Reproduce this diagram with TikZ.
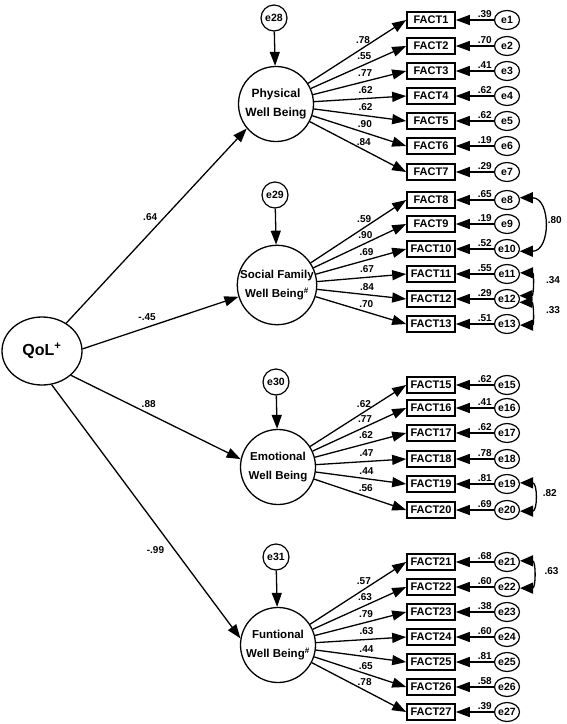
\documentclass[tikz,border=0pt]{standalone}
\usepackage{fontspec}
\setmainfont{Liberation Sans}
\usetikzlibrary{arrows.meta,shapes.geometric}

\begin{document}
\begin{tikzpicture}[x=1pt,y=1pt]
    \tikzstyle{every node}+=[inner sep=0pt]
    \tikzstyle{fact}=[draw, line width=1.6pt, minimum width=48pt, minimum height=15.5pt, font=\fontsize{11}{11}\selectfont\bfseries]
    \tikzstyle{err}=[draw, ellipse, line width=1.2pt, minimum width=25pt, minimum height=19pt, font=\fontsize{10.5}{10.5}\selectfont\bfseries]
    \tikzstyle{res}=[draw, circle, line width=1.2pt, minimum size=26pt, font=\fontsize{10.5}{10.5}\selectfont\bfseries]
    \tikzstyle{latent}=[draw, circle, line width=1.3pt, minimum size=75pt, align=center, font=\fontsize{11.5}{19.5}\selectfont\bfseries]
    \tikzstyle{regr}=[line width=1.3pt, -{Triangle[length=14pt,width=10pt]}]
    \tikzstyle{cov}=[line width=1.3pt, {Triangle[length=13pt,width=11pt]}-{Triangle[length=13pt,width=11pt]}]
    \tikzstyle{coef}=[font=\fontsize{10}{10}\selectfont\bfseries]
    \tikzstyle{flab}=[coef, pos=0.56, above=4pt]
    \tikzstyle{elab}=[coef, pos=0.24, above=2pt]
    \useasboundingbox (0,0) rectangle (567,-724);
    % second order factor
    \node[draw, ellipse, line width=1.3pt, minimum width=80pt, minimum height=68pt, font=\fontsize{16}{16}\selectfont\bfseries] (qol) at (42,-351) {QoL\textsuperscript{+}};
    % first order factors and their residuals
    \node[latent, font=\fontsize{12}{19.5}\selectfont\bfseries] (phys) at (276,-104) {Physical\\Well Being};
    \node[latent] (soc) at (277,-285) {Social Family\\Well Being\textsuperscript{\#}};
    \node[latent] (emo) at (278,-467) {Emotional\\Well Being};
    \node[latent] (fun) at (278,-645) {Funtional\\Well Being\textsuperscript{\#}};
    \node[res] (e28) at (274,-18) {e28};
    \node[res] (e29) at (275,-195) {e29};
    \node[res] (e30) at (276,-382) {e30};
    \node[res] (e31) at (276,-557) {e31};
    \draw[regr] (e28) -- (phys);
    \draw[regr] (e29) -- (soc);
    \draw[regr] (e30) -- (emo);
    \draw[regr] (e31) -- (fun);
    \draw[regr] (qol.49) -- node[coef, pos=0.546, left=7pt] {.64} (phys.220);
    \draw[regr] (qol.3) -- node[coef, pos=0.414, above=6pt] {-.45} (soc.197);
    \draw[regr] (qol.-40) -- node[coef, pos=0.458, above=5pt] {.88} (emo.168);
    \draw[regr] (qol.-74) -- node[coef, pos=0.652, left=10pt] {-.99} (fun.170);
    % Physical Well Being items
    \node[fact] (f1) at (431,-20) {FACT1}; \node[err] (e1) at (507,-20) {e1};
    \draw[regr] (e1) -- node[elab] {.39} (f1); \draw[regr] (phys) -- node[flab] {.78} (f1.west);
    \node[fact] (f2) at (431,-46) {FACT2}; \node[err] (e2) at (507,-46) {e2};
    \draw[regr] (e2) -- node[elab] {.70} (f2); \draw[regr] (phys) -- node[flab] {.55} (f2.west);
    \node[fact] (f3) at (431,-71) {FACT3}; \node[err] (e3) at (507,-71) {e3};
    \draw[regr] (e3) -- node[elab] {.41} (f3); \draw[regr] (phys) -- node[flab] {.77} (f3.west);
    \node[fact] (f4) at (431,-96) {FACT4}; \node[err] (e4) at (507,-96) {e4};
    \draw[regr] (e4) -- node[elab] {.62} (f4); \draw[regr] (phys) -- node[flab] {.62} (f4.west);
    \node[fact] (f5) at (431,-121) {FACT5}; \node[err] (e5) at (507,-121) {e5};
    \draw[regr] (e5) -- node[elab] {.62} (f5); \draw[regr] (phys) -- node[flab] {.62} (f5.west);
    \node[fact] (f6) at (431,-146) {FACT6}; \node[err] (e6) at (507,-146) {e6};
    \draw[regr] (e6) -- node[elab] {.19} (f6); \draw[regr] (phys) -- node[flab] {.90} (f6.west);
    \node[fact] (f7) at (431,-172) {FACT7}; \node[err] (e7) at (507,-172) {e7};
    \draw[regr] (e7) -- node[elab] {.29} (f7); \draw[regr] (phys) -- node[flab] {.84} (f7.west);
    % Social Family Well Being items
    \node[fact] (f8) at (431,-200) {FACT8}; \node[err] (e8) at (507,-200) {e8};
    \draw[regr] (e8) -- node[elab] {.65} (f8); \draw[regr] (soc) -- node[flab] {.59} (f8.west);
    \node[fact] (f9) at (431,-224) {FACT9}; \node[err] (e9) at (507,-224) {e9};
    \draw[regr] (e9) -- node[elab] {.19} (f9); \draw[regr] (soc) -- node[flab] {.90} (f9.west);
    \node[fact] (f10) at (431,-249) {FACT10}; \node[err] (e10) at (507,-249) {e10};
    \draw[regr] (e10) -- node[elab] {.52} (f10); \draw[regr] (soc) -- node[flab] {.69} (f10.west);
    \node[fact] (f11) at (431,-274) {FACT11}; \node[err] (e11) at (507,-274) {e11};
    \draw[regr] (e11) -- node[elab] {.55} (f11); \draw[regr] (soc) -- node[flab] {.67} (f11.west);
    \node[fact] (f12) at (431,-299) {FACT12}; \node[err] (e12) at (507,-299) {e12};
    \draw[regr] (e12) -- node[elab] {.29} (f12); \draw[regr] (soc) -- node[flab] {.84} (f12.west);
    \node[fact] (f13) at (431,-324) {FACT13}; \node[err] (e13) at (507,-324) {e13};
    \draw[regr] (e13) -- node[elab] {.51} (f13); \draw[regr] (soc) -- node[flab] {.70} (f13.west);
    % Emotional Well Being items
    \node[fact] (f15) at (431,-385) {FACT15}; \node[err] (e15) at (507,-385) {e15};
    \draw[regr] (e15) -- node[elab] {.62} (f15); \draw[regr] (emo) -- node[flab] {.62} (f15.west);
    \node[fact] (f16) at (431,-408) {FACT16}; \node[err] (e16) at (507,-408) {e16};
    \draw[regr] (e16) -- node[elab] {.41} (f16); \draw[regr] (emo) -- node[flab] {.77} (f16.west);
    \node[fact] (f17) at (431,-433) {FACT17}; \node[err] (e17) at (507,-433) {e17};
    \draw[regr] (e17) -- node[elab] {.62} (f17); \draw[regr] (emo) -- node[flab] {.62} (f17.west);
    \node[fact] (f18) at (431,-459) {FACT18}; \node[err] (e18) at (507,-459) {e18};
    \draw[regr] (e18) -- node[elab] {.78} (f18); \draw[regr] (emo) -- node[flab] {.47} (f18.west);
    \node[fact] (f19) at (431,-484) {FACT19}; \node[err] (e19) at (507,-484) {e19};
    \draw[regr] (e19) -- node[elab] {.81} (f19); \draw[regr] (emo) -- node[flab] {.44} (f19.west);
    \node[fact] (f20) at (431,-510) {FACT20}; \node[err] (e20) at (507,-510) {e20};
    \draw[regr] (e20) -- node[elab] {.69} (f20); \draw[regr] (emo) -- node[flab] {.56} (f20.west);
    % Funtional Well Being items
    \node[fact] (f21) at (431,-562) {FACT21}; \node[err] (e21) at (507,-562) {e21};
    \draw[regr] (e21) -- node[elab] {.68} (f21); \draw[regr] (fun) -- node[flab] {.57} (f21.west);
    \node[fact] (f22) at (431,-587) {FACT22}; \node[err] (e22) at (507,-587) {e22};
    \draw[regr] (e22) -- node[elab] {.60} (f22); \draw[regr] (fun) -- node[flab] {.63} (f22.west);
    \node[fact] (f23) at (431,-612) {FACT23}; \node[err] (e23) at (507,-612) {e23};
    \draw[regr] (e23) -- node[elab] {.38} (f23); \draw[regr] (fun) -- node[flab] {.79} (f23.west);
    \node[fact] (f24) at (431,-637) {FACT24}; \node[err] (e24) at (507,-637) {e24};
    \draw[regr] (e24) -- node[elab] {.60} (f24); \draw[regr] (fun) -- node[flab] {.63} (f24.west);
    \node[fact] (f25) at (431,-662) {FACT25}; \node[err] (e25) at (507,-662) {e25};
    \draw[regr] (e25) -- node[elab] {.81} (f25); \draw[regr] (fun) -- node[flab] {.44} (f25.west);
    \node[fact] (f26) at (431,-687) {FACT26}; \node[err] (e26) at (507,-687) {e26};
    \draw[regr] (e26) -- node[elab] {.58} (f26); \draw[regr] (fun) -- node[flab] {.65} (f26.west);
    \node[fact] (f27) at (431,-712) {FACT27}; \node[err] (e27) at (507,-712) {e27};
    \draw[regr] (e27) -- node[elab] {.39} (f27); \draw[regr] (fun) -- node[flab] {.78} (f27.west);
    % correlated errors
    \draw[cov] (e8.10) to[out=0, in=0, looseness=1.5] node[coef, right=4pt, yshift=4pt] {.80} (e10.-10);
    \draw[cov] (e11.5) to[out=0, in=0, looseness=1.6] node[coef, right=15pt, yshift=4pt] {.34} (e12.15);
    \draw[cov] (e12.-15) to[out=0, in=0, looseness=1.6] node[coef, right=15pt, yshift=4pt] {.33} (e13.-5);
    \draw[cov] (e19.5) to[out=0, in=0, looseness=1.6] node[coef, right=9pt, yshift=4pt] {.82} (e20.-5);
    \draw[cov] (e21.5) to[out=0, in=0, looseness=1.5] node[coef, right=12pt, yshift=3pt] {.63} (e22.-5);
\end{tikzpicture}
\end{document}
